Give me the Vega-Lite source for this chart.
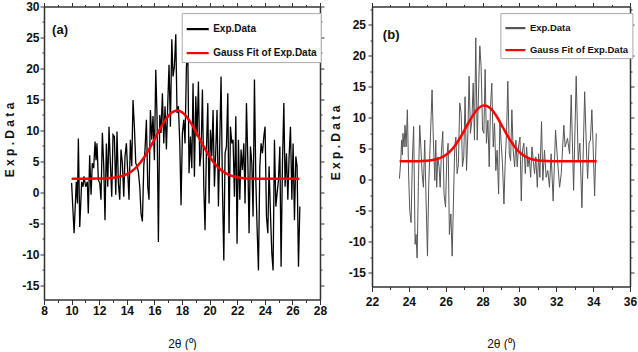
{
"$schema": "https://vega.github.io/schema/vega-lite/v6.json",
"padding": {"left": 3, "top": 0.5, "right": 0, "bottom": 0},
"autosize": {"type": "pad"},
"background": "white",
"spacing": 52,
"bounds": "flush",
"config": {"view": {"stroke": null}, "font": "Liberation Sans",
 "axis": {"grid": false, "domainColor": "#333", "domainWidth": 1.5, "tickColor": "#333", "tickWidth": 1, "labelFont": "Liberation Sans", "labelFontSize": 12, "labelFontWeight": "bold", "labelColor": "#111", "labelOverlap": false, "labelFlush": false, "titleFont": "Liberation Sans", "titleFontSize": 12, "titleFontWeight": "bold", "titleColor": "#111"},
 "legend": {"labelFont": "Liberation Sans", "labelFontWeight": "bold", "labelColor": "#111"}},
"resolve": {"scale": {"color": "independent"}},
"datasets": {
"expA": [{"x":10.00,"y":1.5},{"x":10.18,"y":-6.6},{"x":10.34,"y":1.7},{"x":10.42,"y":-1.8},{"x":10.49,"y":8.7},{"x":10.59,"y":-5.6},{"x":10.73,"y":1.7},{"x":10.83,"y":0.9},{"x":10.90,"y":2.6},{"x":11.02,"y":0.9},{"x":11.14,"y":1.7},{"x":11.21,"y":-3.4},{"x":11.31,"y":6.0},{"x":11.41,"y":-0.4},{"x":11.50,"y":4.7},{"x":11.60,"y":3.9},{"x":11.70,"y":8.2},{"x":11.77,"y":5.2},{"x":11.84,"y":7.9},{"x":11.94,"y":2.0},
{"x":12.04,"y":1.5},{"x":12.13,"y":-1.2},{"x":12.23,"y":9.6},{"x":12.33,"y":4.2},{"x":12.42,"y":-4.5},{"x":12.52,"y":7.9},{"x":12.62,"y":0.9},{"x":12.71,"y":10.6},{"x":12.81,"y":4.7},{"x":12.91,"y":-0.7},{"x":13.00,"y":9.3},{"x":13.10,"y":9.0},{"x":13.20,"y":-0.4},{"x":13.29,"y":9.8},{"x":13.39,"y":1.5},{"x":13.49,"y":-1.2},{"x":13.58,"y":6.9},{"x":13.68,"y":4.7},{"x":13.78,"y":-0.7},{"x":13.87,"y":5.8},{"x":13.97,"y":7.9},{"x":14.07,"y":3.1},{"x":14.16,"y":-1.2},{"x":14.26,"y":8.5},{"x":14.36,"y":4.2},{"x":14.45,"y":14.9},{"x":14.55,"y":10.6},{"x":14.65,"y":4.7},{"x":14.74,"y":4.2},{"x":14.84,"y":3.3},{"x":14.94,"y":0.9},{"x":15.03,"y":-3.4},{"x":15.13,"y":-4.7},{"x":15.23,"y":4.2},{"x":15.32,"y":6.9},{"x":15.42,"y":11.7},{"x":15.52,"y":0.9},{"x":15.61,"y":-1.2},{"x":15.71,"y":13.3},{"x":15.81,"y":8.5},{"x":15.90,"y":12.3},{"x":16.00,"y":5.2},{"x":16.10,"y":19.8},{"x":16.19,"y":12.3},{"x":16.29,"y":-8.0},{"x":16.39,"y":12.5},{"x":16.48,"y":9.6},{"x":16.58,"y":16.0},{"x":16.68,"y":7.9},{"x":16.77,"y":13.9},{"x":16.87,"y":6.9},{"x":16.97,"y":14.4},{"x":17.06,"y":20.6},{"x":17.16,"y":10.6},{"x":17.26,"y":24.7},{"x":17.35,"y":18.7},{"x":17.45,"y":20.3},{"x":17.55,"y":25.5},{"x":17.64,"y":12.8},{"x":17.74,"y":13.9},{"x":17.84,"y":7.9},{"x":17.93,"y":-2.1},{"x":18.03,"y":9.6},{"x":18.13,"y":11.7},{"x":18.22,"y":7.9},{"x":18.32,"y":20.3},{"x":18.42,"y":23.0},{"x":18.51,"y":3.1},{"x":18.61,"y":9.0},{"x":18.71,"y":3.9},{"x":18.80,"y":17.6},{"x":18.90,"y":2.5},{"x":19.00,"y":15.5},{"x":19.09,"y":9.0},{"x":19.19,"y":17.9},{"x":19.29,"y":4.2},{"x":19.38,"y":6.3},{"x":19.48,"y":16.6},{"x":19.58,"y":0.9},{"x":19.67,"y":-6.1},{"x":19.77,"y":6.9},{"x":19.87,"y":14.4},{"x":19.96,"y":-1.8},{"x":20.06,"y":10.1},{"x":20.16,"y":5.8},{"x":20.25,"y":13.3},{"x":20.35,"y":0.9},{"x":20.45,"y":6.9},{"x":20.54,"y":13.3},{"x":20.64,"y":-2.3},{"x":20.74,"y":8.5},{"x":20.83,"y":18.7},{"x":20.93,"y":0.9},{"x":21.03,"y":-11.0},{"x":21.12,"y":6.3},{"x":21.22,"y":7.4},{"x":21.32,"y":16.0},{"x":21.41,"y":-6.6},{"x":21.51,"y":10.6},{"x":21.61,"y":7.9},{"x":21.70,"y":8.5},{"x":21.80,"y":-0.7},{"x":21.90,"y":12.3},{"x":21.99,"y":-8.3},{"x":22.09,"y":8.5},{"x":22.19,"y":-1.2},{"x":22.28,"y":6.9},{"x":22.38,"y":3.6},{"x":22.48,"y":7.9},{"x":22.57,"y":-1.8},{"x":22.67,"y":14.4},{"x":22.77,"y":5.2},{"x":22.86,"y":-6.6},{"x":22.96,"y":7.4},{"x":23.06,"y":4.7},{"x":23.15,"y":-3.9},{"x":23.25,"y":18.2},{"x":23.35,"y":2.0},{"x":23.44,"y":-5.6},{"x":23.54,"y":-12.6},{"x":23.64,"y":4.2},{"x":23.73,"y":7.9},{"x":23.83,"y":6.3},{"x":23.93,"y":9.0},{"x":24.02,"y":10.6},{"x":24.12,"y":-3.9},{"x":24.22,"y":-6.6},{"x":24.31,"y":4.2},{"x":24.41,"y":-3.4},{"x":24.51,"y":-9.9},{"x":24.60,"y":-12.6},{"x":24.70,"y":8.5},{"x":24.80,"y":-2.3},{"x":24.89,"y":-0.2},{"x":24.99,"y":2.0},{"x":25.09,"y":7.4},{"x":25.18,"y":-12.0},{"x":25.28,"y":4.7},{"x":25.38,"y":14.4},{"x":25.47,"y":0.9},{"x":25.57,"y":6.3},{"x":25.67,"y":-1.2},{"x":25.76,"y":5.8},{"x":25.86,"y":10.6},{"x":25.96,"y":-1.2},{"x":26.05,"y":7.9},{"x":26.15,"y":-4.5},{"x":26.25,"y":5.8},{"x":26.34,"y":4.2},{"x":26.44,"y":-12.0},{"x":26.54,"y":-2.3}],
"fitA": [{"x":10,"y":2.2},{"x":11,"y":2.2},{"x":12,"y":2.22},{"x":12.5,"y":2.25},{"x":13,"y":2.34},{"x":13.5,"y":2.53},{"x":13.75,"y":2.70},{"x":14,"y":2.94},{"x":14.25,"y":3.25},{"x":14.5,"y":3.67},{"x":14.75,"y":4.20},{"x":15,"y":4.85},{"x":15.25,"y":5.62},{"x":15.5,"y":6.51},{"x":15.75,"y":7.49},{"x":16,"y":8.53},{"x":16.25,"y":9.59},{"x":16.5,"y":10.61},{"x":16.75,"y":11.54},{"x":17,"y":12.30},{"x":17.25,"y":12.85},{"x":17.5,"y":13.15},{"x":17.65,"y":13.2},{"x":17.75,"y":13.18},{"x":18,"y":12.93},{"x":18.25,"y":12.43},{"x":18.5,"y":11.70},{"x":18.75,"y":10.81},{"x":19,"y":9.80},{"x":19.25,"y":8.75},{"x":19.5,"y":7.69},{"x":19.75,"y":6.70},{"x":20,"y":5.79},{"x":20.25,"y":4.99},{"x":20.5,"y":4.32},{"x":20.75,"y":3.77},{"x":21,"y":3.33},{"x":21.25,"y":2.99},{"x":21.5,"y":2.74},{"x":21.75,"y":2.56},{"x":22,"y":2.44},{"x":22.5,"y":2.29},{"x":23,"y":2.23},{"x":23.5,"y":2.2},{"x":24.5,"y":2.2},{"x":25.5,"y":2.2},{"x":26.5,"y":2.2}],
"expB": [{"x":23.49,"y":0.2},{"x":23.56,"y":3.1},{"x":23.61,"y":6.4},{"x":23.65,"y":4.0},{"x":23.68,"y":7.5},{"x":23.74,"y":5.3},{"x":23.79,"y":8.8},{"x":23.85,"y":5.3},{"x":23.92,"y":11.3},{"x":23.99,"y":0.4},{"x":24.05,"y":-5.0},{"x":24.12,"y":-6.9},{"x":24.19,"y":3.1},{"x":24.26,"y":8.6},{"x":24.34,"y":-10.4},{"x":24.39,"y":-8.8},{"x":24.45,"y":-12.6},{"x":24.52,"y":-0.1},{"x":24.59,"y":8.8},{"x":24.66,"y":4.8},{"x":24.72,"y":1.0},{"x":24.79,"y":-1.2},{"x":24.86,"y":6.4},{"x":24.93,"y":-2.8},{"x":25.01,"y":-12.3},{"x":25.08,"y":-0.7},{"x":25.15,"y":5.3},{"x":25.21,"y":10.2},{"x":25.26,"y":14.5},{"x":25.33,"y":6.4},{"x":25.41,"y":-0.1},{"x":25.46,"y":6.4},{"x":25.51,"y":-1.2},{"x":25.57,"y":3.7},{"x":25.64,"y":2.1},{"x":25.70,"y":-1.2},{"x":25.77,"y":4.8},{"x":25.84,"y":7.8},{"x":25.91,"y":-2.3},{"x":25.99,"y":-4.4},{"x":26.06,"y":3.7},{"x":26.13,"y":5.9},{"x":26.20,"y":-8.8},{"x":26.28,"y":-5.5},{"x":26.35,"y":-12.3},{"x":26.42,"y":-3.4},{"x":26.49,"y":5.3},{"x":26.55,"y":6.9},{"x":26.62,"y":1.0},{"x":26.69,"y":2.6},{"x":26.76,"y":12.4},{"x":26.84,"y":10.7},{"x":26.91,"y":2.1},{"x":26.98,"y":3.7},{"x":27.05,"y":13.4},{"x":27.13,"y":1.5},{"x":27.20,"y":7.5},{"x":27.27,"y":16.7},{"x":27.34,"y":7.5},{"x":27.42,"y":9.6},{"x":27.49,"y":15.6},{"x":27.56,"y":6.4},{"x":27.63,"y":22.9},{"x":27.71,"y":6.4},{"x":27.78,"y":14.0},{"x":27.85,"y":21.6},{"x":27.92,"y":18.3},{"x":28.00,"y":8.0},{"x":28.07,"y":7.5},{"x":28.14,"y":17.8},{"x":28.21,"y":5.9},{"x":28.29,"y":9.6},{"x":28.36,"y":2.1},{"x":28.43,"y":11.8},{"x":28.50,"y":15.6},{"x":28.58,"y":5.3},{"x":28.65,"y":9.1},{"x":28.72,"y":1.5},{"x":28.79,"y":4.8},{"x":28.87,"y":-2.3},{"x":28.94,"y":9.6},{"x":29.01,"y":5.9},{"x":29.08,"y":2.6},{"x":29.16,"y":-3.9},{"x":29.23,"y":3.1},{"x":29.30,"y":7.5},{"x":29.37,"y":15.9},{"x":29.45,"y":4.2},{"x":29.52,"y":3.1},{"x":29.59,"y":11.3},{"x":29.66,"y":4.8},{"x":29.74,"y":2.1},{"x":29.81,"y":6.4},{"x":29.88,"y":2.1},{"x":29.95,"y":5.3},{"x":30.03,"y":6.9},{"x":30.10,"y":-3.4},{"x":30.17,"y":4.8},{"x":30.24,"y":5.9},{"x":30.32,"y":1.0},{"x":30.39,"y":5.3},{"x":30.46,"y":2.1},{"x":30.53,"y":3.7},{"x":30.61,"y":0.4},{"x":30.68,"y":5.3},{"x":30.75,"y":3.1},{"x":30.82,"y":1.0},{"x":30.89,"y":3.7},{"x":30.97,"y":-1.2},{"x":31.04,"y":4.2},{"x":31.11,"y":0.4},{"x":31.20,"y":9.4},{"x":31.27,"y":-0.1},{"x":31.36,"y":4.8},{"x":31.45,"y":0.4},{"x":31.54,"y":1.5},{"x":31.63,"y":-1.2},{"x":31.72,"y":4.2},{"x":31.83,"y":-3.4},{"x":31.96,"y":8.0},{"x":32.07,"y":3.1},{"x":32.18,"y":-1.2},{"x":32.27,"y":1.0},{"x":32.41,"y":8.8},{"x":32.48,"y":5.3},{"x":32.61,"y":6.7},{"x":32.72,"y":4.2},{"x":32.81,"y":13.7},{"x":32.94,"y":-1.7},{"x":33.08,"y":16.7},{"x":33.19,"y":3.1},{"x":33.28,"y":5.9},{"x":33.39,"y":-4.5},{"x":33.54,"y":14.2},{"x":33.65,"y":3.7},{"x":33.70,"y":0.2},{"x":33.78,"y":5.9},{"x":33.85,"y":6.4},{"x":33.93,"y":11.3},{"x":34.00,"y":5.3},{"x":34.08,"y":-2.6},{"x":34.17,"y":7.5}],
"fitB": [{"x":23.5,"y":3.0},{"x":24.5,"y":3.0},{"x":25,"y":3.07},{"x":25.5,"y":3.31},{"x":25.75,"y":3.57},{"x":26,"y":3.99},{"x":26.25,"y":4.63},{"x":26.5,"y":5.50},{"x":26.75,"y":6.62},{"x":27,"y":7.91},{"x":27.25,"y":9.27},{"x":27.5,"y":10.52},{"x":27.75,"y":11.47},{"x":28,"y":11.96},{"x":28.1,"y":12.0},{"x":28.25,"y":11.90},{"x":28.5,"y":11.31},{"x":28.75,"y":10.29},{"x":29,"y":9.00},{"x":29.25,"y":7.65},{"x":29.5,"y":6.38},{"x":29.75,"y":5.31},{"x":30,"y":4.48},{"x":30.25,"y":3.89},{"x":30.5,"y":3.50},{"x":30.75,"y":3.27},{"x":31,"y":3.13},{"x":31.5,"y":3.03},{"x":32,"y":3.0},{"x":33,"y":3.0},{"x":34.19,"y":3.0}]
},
"hconcat": [
{
 "width": 276, "height": 293,
 "resolve": {"axis": {"x": "independent", "y": "independent"}},
 "layer": [
  {"data": {"name": "expA"},
   "mark": {"type": "line", "strokeWidth": 1.3},
   "encoding": {
    "x": {"field": "x", "type": "quantitative", "scale": {"domain": [8, 28], "nice": false, "zero": false},
      "axis": {"orient": "bottom", "values": [8,9,10,11,12,13,14,15,16,17,18,19,20,21,22,23,24,25,26,27,28],
        "labelExpr": "datum.value % 2 === 0 ? '' + datum.value : ''",
        "tickSize": {"condition": {"test": "datum.value % 2 === 0", "value": 5}, "value": 3},
        "labelPadding": 1, "title": "2θ (⁰)", "titleY": 43.5, "titleBaseline": "middle", "titleFontWeight": "normal"}},
    "y": {"field": "y", "type": "quantitative", "scale": {"domain": [-17.3, 30], "nice": false, "zero": false},
      "axis": {"orient": "left", "values": [-15,-12.5,-10,-7.5,-5,-2.5,0,2.5,5,7.5,10,12.5,15,17.5,20,22.5,25,27.5,30],
        "labelExpr": "datum.value % 5 === 0 ? '' + datum.value : ''",
        "tickSize": {"condition": {"test": "datum.value % 5 === 0", "value": 4}, "value": 2},
        "labelPadding": 1, "title": "E x p . D a t a", "titleX": -35, "titleY": 133, "titleBaseline": "middle"}},
    "color": {"datum": "Exp.Data", "type": "nominal",
      "scale": {"domain": ["Exp.Data", "Gauss Fit of Exp.Data"], "range": ["#000000", "#ff0000"]},
      "legend": {"orient": "none", "legendX": 137.7, "legendY": 6.6, "title": null, "symbolType": "stroke", "symbolSize": 484, "symbolStrokeWidth": 2.2, "labelFontSize": 10, "labelOffset": 3, "padding": 3.5, "rowPadding": 6, "fillColor": "white", "strokeColor": "#aaa", "cornerRadius": 0}}
   }},
  {"data": {"name": "fitA"},
   "mark": {"type": "line", "strokeWidth": 2.5, "interpolate": "monotone"},
   "encoding": {
    "x": {"field": "x", "type": "quantitative", "scale": {"domain": [8, 28], "nice": false, "zero": false},
      "axis": {"orient": "top", "values": [8,9,10,11,12,13,14,15,16,17,18,19,20,21,22,23,24,25,26,27,28], "labels": false, "title": null,
        "tickSize": {"condition": {"test": "datum.value % 2 === 0", "value": 4}, "value": 2}}},
    "y": {"field": "y", "type": "quantitative", "scale": {"domain": [-17.3, 30], "nice": false, "zero": false},
      "axis": {"orient": "right", "values": [-15,-12.5,-10,-7.5,-5,-2.5,0,2.5,5,7.5,10,12.5,15,17.5,20,22.5,25,27.5,30], "labels": false, "title": null,
        "tickSize": {"condition": {"test": "datum.value % 5 === 0", "value": 4}, "value": 2}}},
    "color": {"datum": "Gauss Fit of Exp.Data", "type": "nominal"}
   }},
  {"data": {"values": [{"x": 9.16, "y": 26.2, "t": "(a)"}]},
   "mark": {"type": "text", "fontSize": 13, "fontWeight": "bold", "font": "Liberation Sans", "color": "#111"},
   "encoding": {
    "x": {"field": "x", "type": "quantitative", "axis": null},
    "y": {"field": "y", "type": "quantitative", "axis": null},
    "text": {"field": "t"}
   }}
 ]
},
{
 "width": 258, "height": 280,
 "resolve": {"axis": {"x": "independent", "y": "independent"}},
 "layer": [
  {"data": {"name": "expB"},
   "mark": {"type": "line", "strokeWidth": 1},
   "encoding": {
    "x": {"field": "x", "type": "quantitative", "scale": {"domain": [22, 36], "nice": false, "zero": false},
      "axis": {"orient": "bottom", "values": [22,23,24,25,26,27,28,29,30,31,32,33,34,35,36],
        "labelExpr": "datum.value % 2 === 0 ? '' + datum.value : ''",
        "tickSize": {"condition": {"test": "datum.value % 2 === 0", "value": 5}, "value": 3},
        "labelPadding": 5, "title": "2θ (⁰)", "titleY": 56.6, "titleBaseline": "middle", "titleFontWeight": "normal"}},
    "y": {"field": "y", "type": "quantitative", "scale": {"domain": [-17.2, 27.95], "nice": false, "zero": false},
      "axis": {"orient": "left", "values": [-15,-12.5,-10,-7.5,-5,-2.5,0,2.5,5,7.5,10,12.5,15,17.5,20,22.5,25,27.5],
        "labelExpr": "datum.value % 5 === 0 ? '' + datum.value : ''",
        "tickSize": {"condition": {"test": "datum.value % 5 === 0", "value": 4}, "value": 2},
        "labelPadding": 2.5, "title": "E x p . D a t a", "titleX": -36.6, "titleY": 136, "titleBaseline": "middle"}},
    "color": {"datum": "Exp.Data", "type": "nominal",
      "scale": {"domain": ["Exp.Data", "Gauss Fit of Exp.Data"], "range": ["#555555", "#ff0000"]},
      "legend": {"orient": "none", "legendX": 128.4, "legendY": 6.6, "title": null, "symbolType": "stroke", "symbolSize": 400, "symbolStrokeWidth": 2.2, "labelFontSize": 9.5, "labelOffset": 3, "padding": 3.5, "rowPadding": 6, "fillColor": "white", "strokeColor": "#aaa", "cornerRadius": 0}}
   }},
  {"data": {"name": "fitB"},
   "mark": {"type": "line", "strokeWidth": 2.5, "interpolate": "monotone"},
   "encoding": {
    "x": {"field": "x", "type": "quantitative", "scale": {"domain": [22, 36], "nice": false, "zero": false},
      "axis": {"orient": "top", "values": [22,23,24,25,26,27,28,29,30,31,32,33,34,35,36], "labels": false, "title": null,
        "tickSize": {"condition": {"test": "datum.value % 2 === 0", "value": 4}, "value": 2}}},
    "y": {"field": "y", "type": "quantitative", "scale": {"domain": [-17.2, 27.95], "nice": false, "zero": false},
      "axis": {"orient": "right", "values": [-15,-12.5,-10,-7.5,-5,-2.5,0,2.5,5,7.5,10,12.5,15,17.5,20,22.5,25,27.5], "labels": false, "title": null,
        "tickSize": {"condition": {"test": "datum.value % 5 === 0", "value": 4}, "value": 2}}},
    "color": {"datum": "Gauss Fit of Exp.Data", "type": "nominal"}
   }},
  {"data": {"values": [{"x": 23.04, "y": 23.4, "t": "(b)"}]},
   "mark": {"type": "text", "fontSize": 13, "fontWeight": "bold", "font": "Liberation Sans", "color": "#111"},
   "encoding": {
    "x": {"field": "x", "type": "quantitative", "axis": null},
    "y": {"field": "y", "type": "quantitative", "axis": null},
    "text": {"field": "t"}
   }}
 ]
}
]
}
